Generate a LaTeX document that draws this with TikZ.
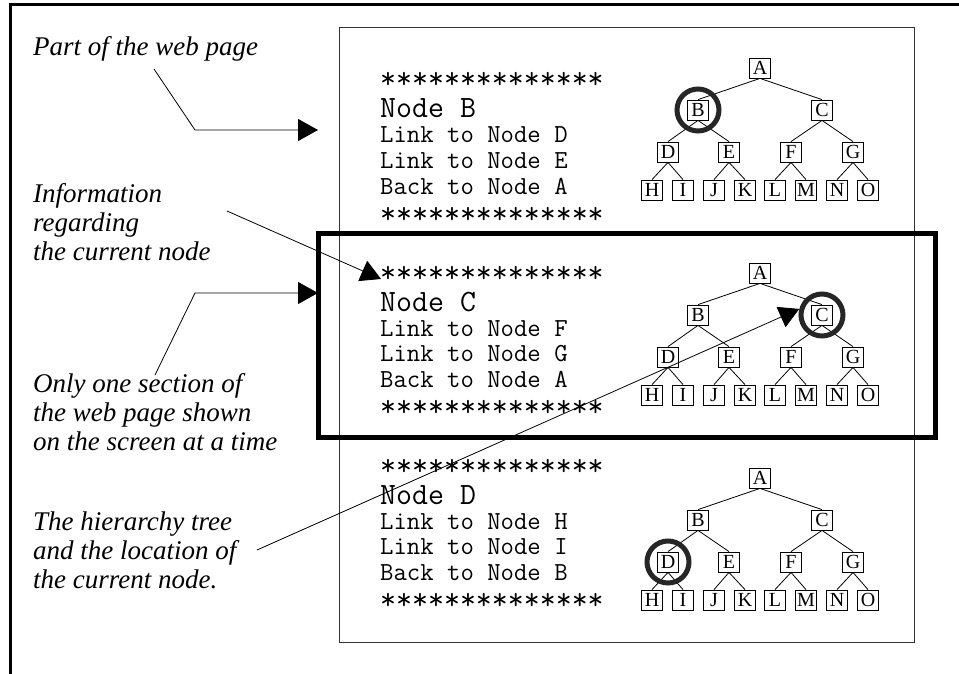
\documentclass[tikz,border=0pt]{standalone}
\usepackage{fontspec}
\setmainfont{Liberation Serif}
\usetikzlibrary{arrows.meta}
\tikzset{
  callout/.style={font=\fontsize{27}{29}\selectfont\itshape, anchor=base west, inner sep=0pt},
  bigmono/.style={font=\ttfamily\fontsize{31}{31}\selectfont, anchor=base west, inner sep=0pt, text height=19pt, text depth=1pt},
  smallmono/.style={font=\ttfamily\fontsize{26}{26}\selectfont, anchor=base west, inner sep=0pt, text height=16pt, text depth=1pt},
  treebox/.style={draw, line width=0.8pt, minimum width=21pt, minimum height=20pt, inner sep=0pt, font=\fontsize{20}{20}\selectfont},
  treeedge/.style={line width=0.8pt},
  hl/.style={circle, draw=black!85, line width=5pt, minimum size=42pt, inner sep=0pt},
  pointer/.style={line width=0.8pt, -{Triangle[length=20pt,width=22pt]}},
}
\newcommand{\websec}[6]{%
  \node[bigmono] (sa#1) at (380,89+#2) {**************};
  \node[bigmono] (nd#1) at (380,118+#2) {#3};
  \node[smallmono] (la#1) at (380,143+#2) {#4};
  \node[smallmono] (lb#1) at (380,168+#2) {#5};
  \node[smallmono] (lc#1) at (380,194+#2) {#6};
  \node[bigmono] (sb#1) at (380,223+#2) {**************};
}
\newcommand{\drawtree}[2]{%
  \node[treebox] (A#1) at (760,68+#2) {A};
  \node[treebox] (B#1) at (698,110+#2) {B};
  \node[treebox] (C#1) at (822,110+#2) {C};
  \node[treebox] (D#1) at (668,152+#2) {D};
  \node[treebox] (E#1) at (729,152+#2) {E};
  \node[treebox] (F#1) at (791,152+#2) {F};
  \node[treebox] (G#1) at (853,152+#2) {G};
  \node[treebox] (H#1) at (652,190+#2) {H};
  \node[treebox] (I#1) at (683,190+#2) {I};
  \node[treebox] (J#1) at (714,190+#2) {J};
  \node[treebox] (K#1) at (745,190+#2) {K};
  \node[treebox] (L#1) at (775,190+#2) {L};
  \node[treebox] (M#1) at (806,190+#2) {M};
  \node[treebox] (N#1) at (837,190+#2) {N};
  \node[treebox] (O#1) at (868,190+#2) {O};
  \foreach \p/\c in {A/B,A/C,B/D,B/E,C/F,C/G,D/H,D/I,E/J,E/K,F/L,F/M,G/N,G/O}
    \draw[treeedge] (\p#1.south) -- (\c#1.north);
}
\begin{document}
\begin{tikzpicture}[x=1pt,y=-1pt]
\useasboundingbox (0,0) rectangle (959,674);
% outer frame (partly visible)
\draw[line width=3pt] (10,674) -- (10,5) -- (959,5);
% web page
\node[draw=black!80, line width=1pt, anchor=north west, minimum width=575pt, minimum height=614pt, inner sep=0pt, outer sep=0pt] (page) at (339,28) {};
% screen
\node[draw, line width=5pt, anchor=north west, minimum width=616.5pt, minimum height=204.5pt, inner sep=0pt, outer sep=0pt] (screen) at (318.5,233) {};
% sections
\websec{1}{0}{Node B}{Link to Node D}{Link to Node E}{Back to Node A}
\websec{2}{193}{Node C}{Link to Node F}{Link to Node G}{Back to Node A}
\websec{3}{386}{Node D}{Link to Node H}{Link to Node I}{Back to Node B}
\drawtree{1}{0}
\drawtree{2}{205}
\drawtree{3}{410}
\node[hl] (hlB) at (B1) {};
\node[hl] (hlC) at (C2) {};
\node[hl] (hlD) at (D3) {};
% callouts
\node[callout] (t1) at (33,56) {Part of the web page};
\node[callout] (t2a) at (33,202) {Information};
\node[callout] (t2b) at (33,231) {regarding};
\node[callout] (t2c) at (33,260) {the current node};
\node[callout] (t3a) at (33,392) {Only one section of};
\node[callout] (t3b) at (33,421) {the web page shown};
\node[callout] (t3c) at (33,450) {on the screen at a time};
\node[callout] (t4a) at (33,530) {The hierarchy tree};
\node[callout] (t4b) at (33,559) {and the location of};
\node[callout] (t4c) at (33,588) {the current node.};
% pointer lines
\coordinate (p1s) at (154,69);
\coordinate (p1k) at (195,130);
\coordinate (p1e) at (318,130);
\coordinate (p2s) at (227,211);
\coordinate (p2e) at (381,279);
\coordinate (p3s) at (155,375);
\coordinate (p3k) at (195,293);
\coordinate (p3e) at (318,293);
\coordinate (p4s) at (257,550);
\draw[pointer] (p1s) -- (p1k) -- (p1e);
\draw[pointer] (p2s) -- (p2e);
\draw[pointer] (p3s) -- (p3k) -- (p3e);
\draw[pointer] (p4s) -- (hlC.165);
\end{tikzpicture}
\end{document}
